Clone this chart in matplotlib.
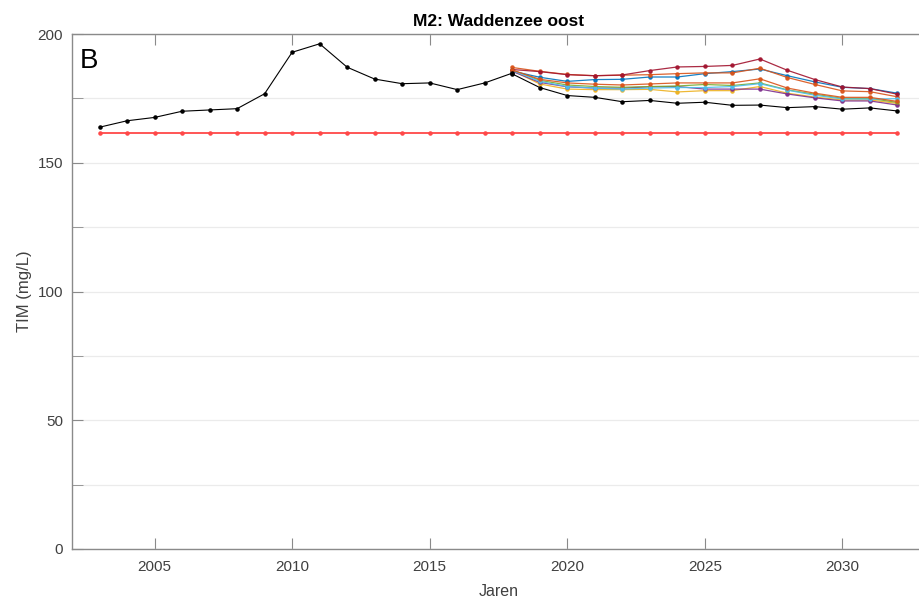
import matplotlib
matplotlib.use("Agg")
import matplotlib.pyplot as plt
from matplotlib.ticker import MultipleLocator

plt.rcParams['font.family'] = ['Liberation Sans', 'DejaVu Sans']

hist_years = list(range(2003, 2019))
hist_vals = [163.8, 166.3, 167.6, 170.0, 170.5, 171.0, 176.8, 192.9, 196.2,
             187.1, 182.5, 180.7, 181.0, 178.4, 181.0, 184.8]

ref_years = list(range(2003, 2033))
ref_vals = [161.6] * len(ref_years)

scen_years = list(range(2018, 2033))
scen_black = [184.5, 179.2, 176.1, 175.4, 173.7, 174.2, 173.1, 173.5, 172.3,
              172.4, 171.4, 171.8, 170.8, 171.3, 170.1]
scen_blue = [185.6, 183.2, 181.6, 182.3, 182.4, 183.3, 183.3, 184.6, 185.4,
             186.4, 183.8, 181.4, 179.3, 178.8, 177.0]
scen_orange = [187.0, 185.5, 184.3, 183.8, 184.0, 184.2, 184.6, 184.9, 184.9,
               186.7, 183.1, 180.4, 177.9, 177.6, 175.6]
scen_yellow = [185.8, 180.6, 178.6, 178.4, 178.4, 178.5, 177.5, 178.0, 178.0,
               179.6, 177.0, 175.5, 174.4, 174.4, 173.0]
scen_purple = [185.5, 181.2, 179.5, 179.0, 179.0, 179.5, 179.6, 178.6, 178.6,
               178.6, 176.7, 175.2, 174.0, 174.0, 172.4]
scen_green = [186.0, 182.0, 180.2, 179.6, 179.3, 179.6, 179.8, 180.4, 180.0,
              181.0, 178.3, 176.6, 175.0, 175.0, 173.4]
scen_lightblue = [185.8, 181.6, 179.6, 179.0, 178.6, 179.0, 179.2, 179.2, 179.6,
                  180.7, 178.2, 176.2, 174.8, 174.7, 174.9]
scen_darkred = [186.2, 185.4, 184.2, 183.8, 184.1, 185.8, 187.2, 187.4, 187.8,
                190.3, 185.9, 182.3, 179.4, 178.8, 176.6]
scen_orange2 = [186.0, 182.4, 181.0, 180.5, 180.2, 180.6, 181.0, 181.0, 181.0,
                182.6, 179.0, 177.0, 175.4, 175.4, 173.8]

series = [
    (scen_blue, '#0072BD'),
    (scen_orange, '#D95319'),
    (scen_yellow, '#EDB120'),
    (scen_purple, '#7E2F8E'),
    (scen_green, '#77AC30'),
    (scen_lightblue, '#4DBEEE'),
    (scen_darkred, '#A2142F'),
    (scen_orange2, '#D95319'),
]

fig = plt.figure(figsize=(9.2, 5.97), dpi=100)
ax = fig.add_axes([72/920, 48/597, (925-72)/920, (549-34)/597])

ax.plot(ref_years, ref_vals, color='#FF4848', lw=1.3, marker='.', ms=4.5, zorder=3)
for vals, c in series:
    ax.plot(scen_years, vals, color=c, lw=0.9, marker='.', ms=4.5, alpha=0.9, zorder=3)
ax.plot(scen_years, scen_black, color='black', lw=0.8, marker='.', ms=4.5, zorder=4)
ax.plot(hist_years, hist_vals, color='black', lw=0.8, marker='.', ms=4.5, zorder=4)

ax.set_xlim(2002, 2033)
ax.set_ylim(0, 200)
ax.xaxis.set_major_locator(MultipleLocator(5))
ax.yaxis.set_major_locator(MultipleLocator(50))
ax.yaxis.set_minor_locator(MultipleLocator(25))
ax.grid(True, which='both', axis='y', color='#ebebeb', lw=0.9, zorder=0)
ax.set_axisbelow(True)

for s in ['left', 'bottom', 'top']:
    ax.spines[s].set_color('#8a8a8a')
    ax.spines[s].set_linewidth(1.0)
ax.spines['right'].set_visible(False)
ax.tick_params(axis='both', which='both', direction='in', colors='#8a8a8a',
               labelcolor='#404040', labelsize=11)
ax.tick_params(axis='x', which='major', length=8, top=True, pad=8)
ax.tick_params(axis='y', which='major', length=8, pad=6.5)
ax.tick_params(axis='y', which='minor', length=8)

ax.set_xlabel('Jaren', fontsize=11.5, color='#404040', labelpad=7)
ax.set_ylabel('TIM (mg/L)', fontsize=12, color='#404040', labelpad=4)
ax.set_title('M2: Waddenzee oost', fontsize=12.5, fontweight='bold', color='black', pad=6)
ax.text(0.0094, 0.973, 'B', transform=ax.transAxes, fontsize=20, va='top', ha='left',
        color='black')

fig.savefig('out.png', dpi=100)
